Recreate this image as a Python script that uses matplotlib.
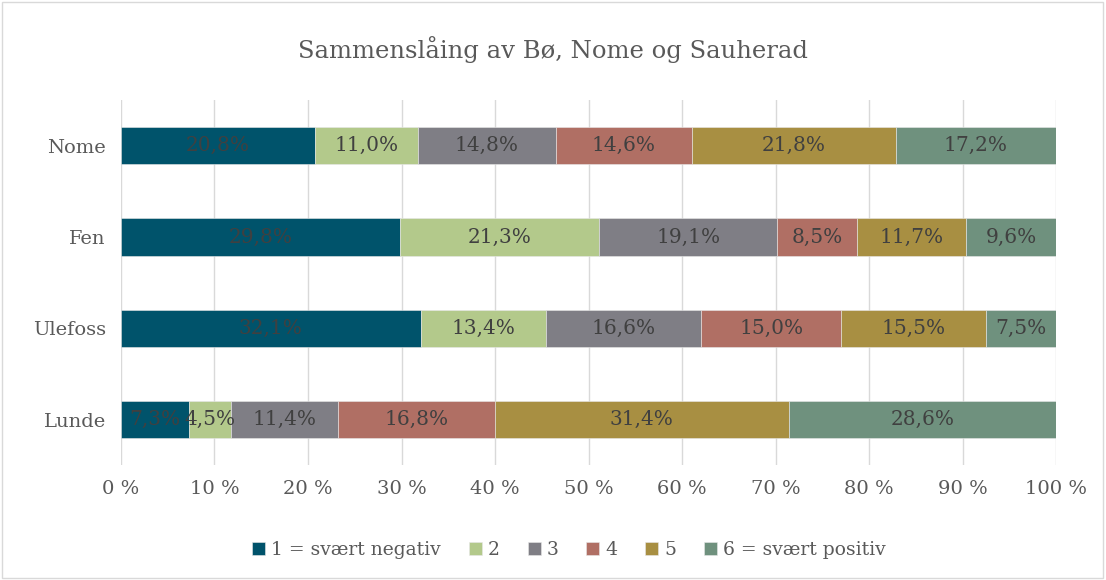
import matplotlib
matplotlib.use("Agg")
import matplotlib.pyplot as plt
import numpy as np

plt.rcParams['font.family'] = ['DejaVu Serif']

categories = ["Nome", "Fen", "Ulefoss", "Lunde"]
series = ["1 = svært negativ", "2", "3", "4", "5", "6 = svært positiv"]
values = {
    "Nome":    [20.8, 11.0, 14.8, 14.6, 21.8, 17.2],
    "Fen":     [29.8, 21.3, 19.1, 8.5, 11.7, 9.6],
    "Ulefoss": [32.1, 13.4, 16.6, 15.0, 15.5, 7.5],
    "Lunde":   [7.3, 4.5, 11.4, 16.8, 31.4, 28.6],
}
colors = ["#00536b", "#b3c98b", "#7f7e85", "#b06f64", "#a88f42", "#6f917e"]
xticks = [0, 10, 20, 30, 40, 50, 60, 70, 80, 90, 100]

fig = plt.figure(figsize=(11.06, 5.80), dpi=100)
ax = fig.add_axes([0.1094, 0.198, 0.8454, 0.6296])

# y positions top-down
ypos = np.arange(len(categories))[::-1]
data = np.array([values[c] for c in categories])
totals = data.sum(1, keepdims=True)
shares = data / totals * 100
left = np.zeros(len(categories))
for i, s in enumerate(series):
    ax.barh(ypos, shares[:, i], left=left, height=0.41, color=colors[i],
            edgecolor="#e8e8e8", linewidth=0.4, label=s, zorder=3)
    for y, l, w, v in zip(ypos, left, shares[:, i], data[:, i]):
        ax.text(l + w / 2, y, f"{v:.1f}%".replace(".", ","), ha="center", va="center",
                fontsize=14.5, color="#404040", zorder=4)
    left += shares[:, i]

ax.set_xlim(0, 100)
ax.set_ylim(-0.5, 3.5)
ax.set_xticks(xticks)
ax.set_xticklabels([f"{t} %" for t in xticks], fontsize=14, color="#595959")
ax.set_yticks(ypos)
ax.set_yticklabels(categories, fontsize=14, color="#595959")
ax.tick_params(length=0, pad=11)
ax.xaxis.grid(True, color="#d9d9d9", linewidth=1, zorder=0)
for sp in ax.spines.values():
    sp.set_visible(False)

fig.text(0.5, 0.915, "Sammenslåing av Bø, Nome og Sauherad", ha="center", va="center",
         fontsize=17.5, color="#595959")

ax.legend(loc="center", bbox_to_anchor=(0.479, -0.232), ncol=6,
          frameon=False, fontsize=13.5, handlelength=0.7, handleheight=0.7,
          handletextpad=0.3, columnspacing=1.5, labelcolor="#595959")

fig.patches.append(plt.Rectangle((0.002, 0.003), 0.995, 0.994, transform=fig.transFigure,
                                 fill=False, edgecolor="#d9d9d9", linewidth=1))
fig.savefig("out.png", dpi=100)
